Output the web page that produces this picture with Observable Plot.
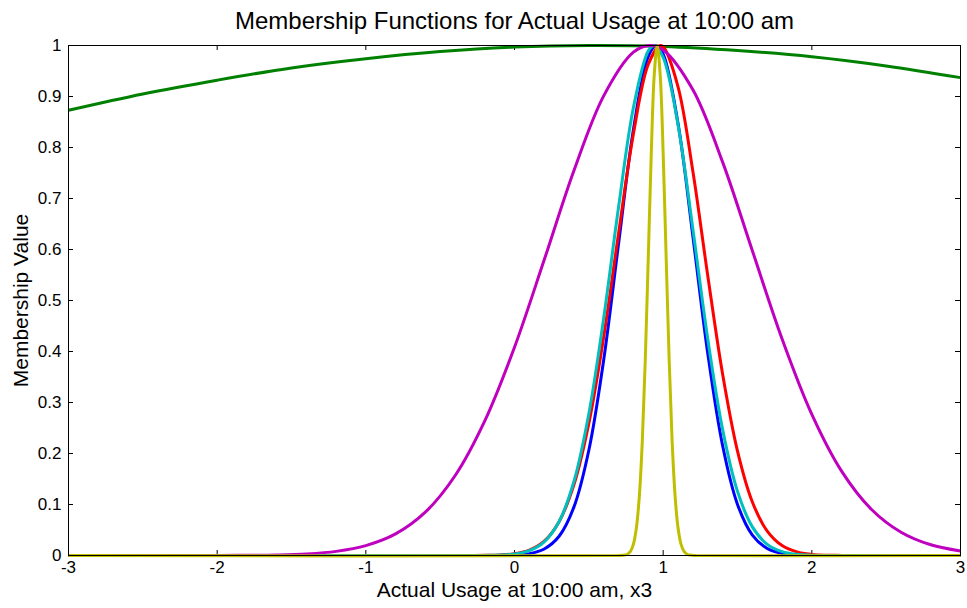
<!DOCTYPE html>
<html>
<head>
<meta charset="utf-8">
<script src="https://cdn.jsdelivr.net/npm/d3@7"></script>
<script src="https://cdn.jsdelivr.net/npm/@observablehq/plot@0.6"></script>
<style>
  html, body { margin: 0; padding: 0; background: #ffffff; }
  #chart svg { display: block; }
</style>
</head>
<body>
<div id="chart"></div>
<script>
// Text
const titleText = "Membership Functions for Actual Usage at 10:00 am";
const xLabelText = "Actual Usage at 10:00 am, x3";
const yLabelText = "Membership Value";

// Tick values
const xTicks = [-3, -2, -1, 0, 1, 2, 3];
const yTicks = [0, 0.1, 0.2, 0.3, 0.4, 0.5, 0.6, 0.7, 0.8, 0.9, 1];

// Membership function samples (x, membership value)
const blueX = [-3, -0.2, -0.1, 0, 0.1, 0.2, 0.3, 0.4, 0.5, 0.6, 0.7, 0.8, 0.9, 0.953, 1.0, 1.1, 1.2, 1.3, 1.4, 1.5, 1.6, 1.7, 1.8, 1.9, 2.0, 2.1, 3];
const blueY = [0, 0, 0.0002, 0.0009, 0.0037, 0.0128, 0.0377, 0.0953, 0.2064, 0.3836, 0.6113, 0.8353, 0.9786, 1, 0.9831, 0.8469, 0.6256, 0.3962, 0.2152, 0.1002, 0.0400, 0.0137, 0.0040, 0.0010, 0.0002, 0, 0];

const greenX = [-3, -2.5, -2, -1.5, -1, -0.5, 0, 0.5, 1, 1.5, 2, 2.5, 3];
const greenY = [0.873, 0.905, 0.932, 0.956, 0.974, 0.988, 0.997, 1.0, 0.998, 0.990, 0.978, 0.960, 0.937];

const redX = [-3, -0.3, -0.2, -0.1, 0, 0.1, 0.2, 0.3, 0.4, 0.5, 0.6, 0.7, 0.8, 0.9, 0.98, 1.0, 1.1, 1.2, 1.3, 1.4, 1.5, 1.6, 1.7, 1.8, 1.9, 2.0, 2.1, 2.2, 2.3, 3];
const redY = [0, 0.0001, 0.0003, 0.0011, 0.0036, 0.0107, 0.0282, 0.0664, 0.1391, 0.2590, 0.4288, 0.6314, 0.8270, 0.9632, 1, 0.9977, 0.9190, 0.7529, 0.5486, 0.3554, 0.2048, 0.1050, 0.0478, 0.0194, 0.0070, 0.0022, 0.0006, 0.0002, 0, 0];

const cyanX = [-3, -0.3, -0.2, -0.1, 0, 0.1, 0.2, 0.3, 0.4, 0.5, 0.6, 0.7, 0.8, 0.9, 0.94, 1.0, 1.1, 1.2, 1.3, 1.4, 1.5, 1.6, 1.7, 1.8, 1.9, 2.0, 2.1, 2.2, 3];
const cyanY = [0, 0, 0.0002, 0.0008, 0.0029, 0.0094, 0.0268, 0.0667, 0.1455, 0.2780, 0.4657, 0.6833, 0.8785, 0.9895, 1, 0.9765, 0.8443, 0.6396, 0.4245, 0.2468, 0.1258, 0.0561, 0.0219, 0.0075, 0.0023, 0.0006, 0.0001, 0, 0];

const magentaX = [-3, -2, -1.8, -1.6, -1.4, -1.2, -1.0, -0.8, -0.6, -0.4, -0.2, 0, 0.2, 0.4, 0.6, 0.8, 0.91, 1.0, 1.2, 1.4, 1.6, 1.8, 2.0, 2.2, 2.4, 2.6, 2.8, 3.0];
const magentaY = [0, 0.0001, 0.0004, 0.0011, 0.0031, 0.0081, 0.0194, 0.0423, 0.0849, 0.1563, 0.2639, 0.4084, 0.5798, 0.7548, 0.9013, 0.9870, 1, 0.9913, 0.9131, 0.7713, 0.5976, 0.4246, 0.2767, 0.1654, 0.0907, 0.0456, 0.0210, 0.0089];

const yellowX = [-3, 0.70, 0.74, 0.76, 0.78, 0.80, 0.82, 0.84, 0.86, 0.88, 0.90, 0.92, 0.94, 0.96, 0.98, 1.00, 1.02, 1.04, 1.06, 1.08, 1.10, 1.12, 1.14, 1.16, 1.18, 1.22, 3];
const yellowY = [0, 0, 0.0008, 0.0026, 0.0081, 0.0223, 0.0543, 0.1176, 0.2262, 0.3863, 0.5856, 0.7884, 0.9423, 1, 0.9423, 0.7884, 0.5856, 0.3863, 0.2262, 0.1176, 0.0543, 0.0223, 0.0081, 0.0026, 0.0008, 0, 0];

// Series in plotting order with their line colours
const series = [
  {xs: blueX, ys: blueY, color: "#0000ff"},
  {xs: greenX, ys: greenY, color: "#008000"},
  {xs: redX, ys: redY, color: "#ff0000"},
  {xs: cyanX, ys: cyanY, color: "#00bfbf"},
  {xs: magentaX, ys: magentaY, color: "#bf00bf"},
  {xs: yellowX, ys: yellowY, color: "#bfbf00"}
];

const W = 967, H = 608;
const margin = {top: 45, right: 7, bottom: 53, left: 68};
const innerH = H - margin.top - margin.bottom;
const innerW = W - margin.left - margin.right;
const tickLen = 5;
const font = "'Liberation Sans', Arial, Helvetica, sans-serif";

const lineMarks = series.map(s =>
  Plot.line(s.xs.map((x, i) => ({x, y: s.ys[i]})), {
    x: "x", y: "y", stroke: s.color, strokeWidth: 3,
    curve: "catmull-rom", strokeLinejoin: "round", strokeLinecap: "butt"
  })
);

const chart = Plot.plot({
  width: W,
  height: H,
  marginTop: margin.top,
  marginRight: margin.right,
  marginBottom: margin.bottom,
  marginLeft: margin.left,
  style: {fontFamily: font, fontSize: "17px", color: "#000", background: "#fff"},
  x: {domain: [-3, 3], axis: null},
  y: {domain: [0, 1], axis: null},
  marks: [
    // inward tick marks on all four sides
    Plot.tickX(xTicks, {x: d => d, insetTop: innerH - tickLen, stroke: "#000", strokeWidth: 1}),
    Plot.tickX(xTicks, {x: d => d, insetBottom: innerH - tickLen, stroke: "#000", strokeWidth: 1}),
    Plot.tickY(yTicks, {y: d => d, insetRight: innerW - tickLen, stroke: "#000", strokeWidth: 1}),
    Plot.tickY(yTicks, {y: d => d, insetLeft: innerW - tickLen, stroke: "#000", strokeWidth: 1}),
    ...lineMarks,
    Plot.frame({stroke: "#000", strokeWidth: 1}),
    Plot.axisX({ticks: xTicks, tickSize: 0, tickPadding: 5, tickFormat: d => String(d), label: null, fontSize: 17}),
    Plot.axisY({ticks: yTicks, tickSize: 0, tickPadding: 7, tickFormat: d => String(+d.toFixed(1)), label: null, fontSize: 17}),
    Plot.text([titleText], {text: d => d, frameAnchor: "top", lineAnchor: "middle", textAnchor: "middle", dy: -24, fontSize: 24, fill: "#000"}),
    Plot.text([xLabelText], {text: d => d, frameAnchor: "bottom", lineAnchor: "middle", textAnchor: "middle", dy: 35, fontSize: 21, fill: "#000"}),
    Plot.text([yLabelText], {text: d => d, frameAnchor: "left", lineAnchor: "middle", textAnchor: "middle", dx: -47, rotate: -90, fontSize: 21, fill: "#000"})
  ]
});

document.getElementById("chart").appendChild(chart);
</script>
</body>
</html>
